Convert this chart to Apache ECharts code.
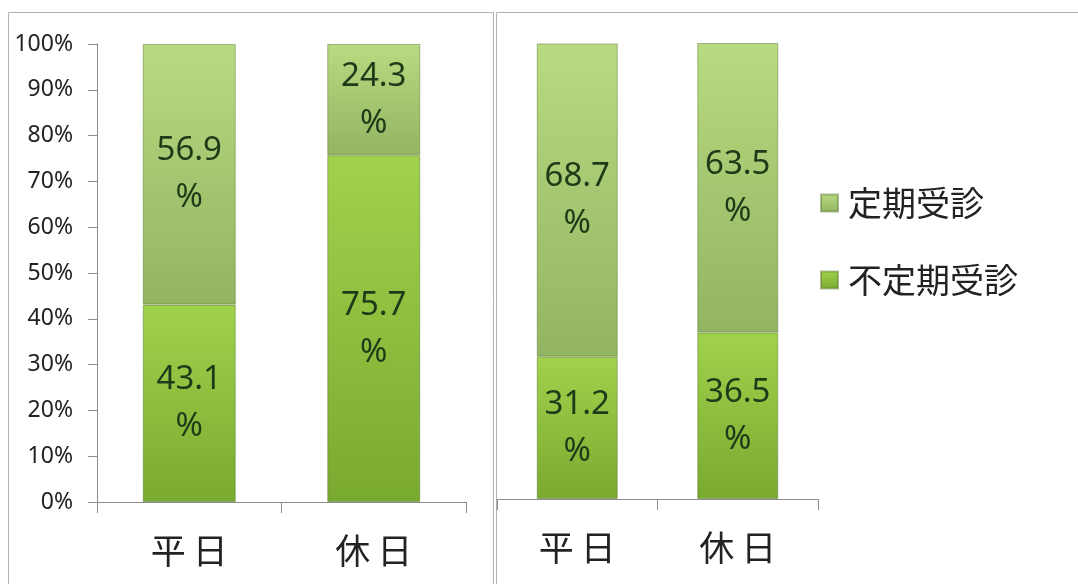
<!DOCTYPE html>
<html>
<head>
<meta charset="utf-8">
<style>
  html, body { margin: 0; padding: 0; background: #ffffff; }
  #chart { width: 1078px; height: 584px; }
</style>
<script src="https://cdn.jsdelivr.net/npm/echarts@6/dist/echarts.min.js"></script>
</head>
<body>
<div id="chart"></div>
<script>
// Categories and shares (%) for the two panels
const categories = ['平日', '休日'];
const seriesNames = ['定期受診', '不定期受診'];
const leftIrregular = [43.1, 75.7];   // 不定期受診
const leftRegular = [56.9, 24.3];     // 定期受診
const rightIrregular = [31.2, 36.5];  // 不定期受診
const rightRegular = [68.7, 63.5];    // 定期受診
const yTicks = { min: 0, max: 100, interval: 10 };

const chart = echarts.init(document.getElementById('chart'), null, { renderer: 'canvas' });

const FONT = '"Noto Sans", "Noto Sans CJK JP", sans-serif';
const CJK = '"Noto Sans CJK JP", "Noto Sans", sans-serif';
const AXIS_COLOR = '#8c8c8c';

function grad(top, bottom) {
  return new echarts.graphic.LinearGradient(0, 0, 0, 1, [
    { offset: 0, color: top },
    { offset: 1, color: bottom }
  ]);
}
const regularColor = grad('#b8da80', '#93b462');
const irregularColor = grad('#a0d24c', '#79aa30');

const labelStyle = {
  show: true,
  position: 'inside',
  formatter: p => p.value + '\n%',
  fontSize: 33,
  lineHeight: 47,
  color: '#1f3a18',
  fontFamily: FONT
};

function barSeries(name, data, idx, color, width) {
  return {
    name: name,
    type: 'bar',
    stack: 'g' + idx,
    xAxisIndex: idx,
    yAxisIndex: idx,
    barWidth: width,
    data: data,
    itemStyle: { color: color, borderColor: 'rgba(80,110,40,0.45)', borderWidth: 1 },
    label: labelStyle,
    emphasis: { disabled: true }
  };
}

function xAxis(idx) {
  return {
    type: 'category',
    gridIndex: idx,
    data: categories,
    axisLine: { show: true, lineStyle: { color: AXIS_COLOR, width: 1 } },
    axisTick: { show: true, length: 11, lineStyle: { color: AXIS_COLOR } },
    axisLabel: {
      fontSize: 35, color: '#222', fontFamily: CJK, margin: 31,
      formatter: v => v.split('').join('\u2009')
    }
  };
}

chart.setOption({
  animation: false,
  backgroundColor: '#ffffff',
  grid: [
    { left: 97, top: 44, width: 369, height: 458 },
    { left: 497, top: 43, width: 321, height: 456 }
  ],
  xAxis: [xAxis(0), xAxis(1)],
  yAxis: [
    {
      type: 'value', gridIndex: 0,
      min: yTicks.min, max: yTicks.max, interval: yTicks.interval,
      axisLine: { show: true, lineStyle: { color: AXIS_COLOR, width: 1 } },
      axisTick: { show: true, length: 9, lineStyle: { color: AXIS_COLOR } },
      axisLabel: { formatter: '{value}%', fontSize: 23, color: '#222', fontFamily: FONT, margin: 24 },
      splitLine: { show: false }
    },
    {
      type: 'value', gridIndex: 1,
      min: yTicks.min, max: yTicks.max, interval: yTicks.interval,
      axisLine: { show: false }, axisTick: { show: false },
      axisLabel: { show: false }, splitLine: { show: false }
    }
  ],
  legend: {
    data: seriesNames,
    orient: 'vertical',
    left: 820,
    top: 186,
    padding: 0,
    itemWidth: 17,
    itemHeight: 17,
    itemGap: 43,
    icon: 'rect',
    selectedMode: false,
    textStyle: { fontSize: 34, color: '#222', fontFamily: CJK, padding: [0, 0, 0, 5] }
  },
  series: [
    barSeries('不定期受診', leftIrregular, 0, irregularColor, 93),
    barSeries('定期受診', leftRegular, 0, regularColor, 93),
    barSeries('不定期受診', rightIrregular, 1, irregularColor, 81),
    barSeries('定期受診', rightRegular, 1, regularColor, 81)
  ],
  graphic: [
    // panel frames
    { type: 'rect', shape: { x: 8.5, y: 12.5, width: 485, height: 600 },
      style: { fill: 'none', stroke: '#b0b0b0', lineWidth: 1 }, silent: true, z: 0 },
    { type: 'rect', shape: { x: 496.5, y: 12.5, width: 600, height: 600 },
      style: { fill: 'none', stroke: '#b0b0b0', lineWidth: 1 }, silent: true, z: 0 }
  ]
});
</script>
</body>
</html>
